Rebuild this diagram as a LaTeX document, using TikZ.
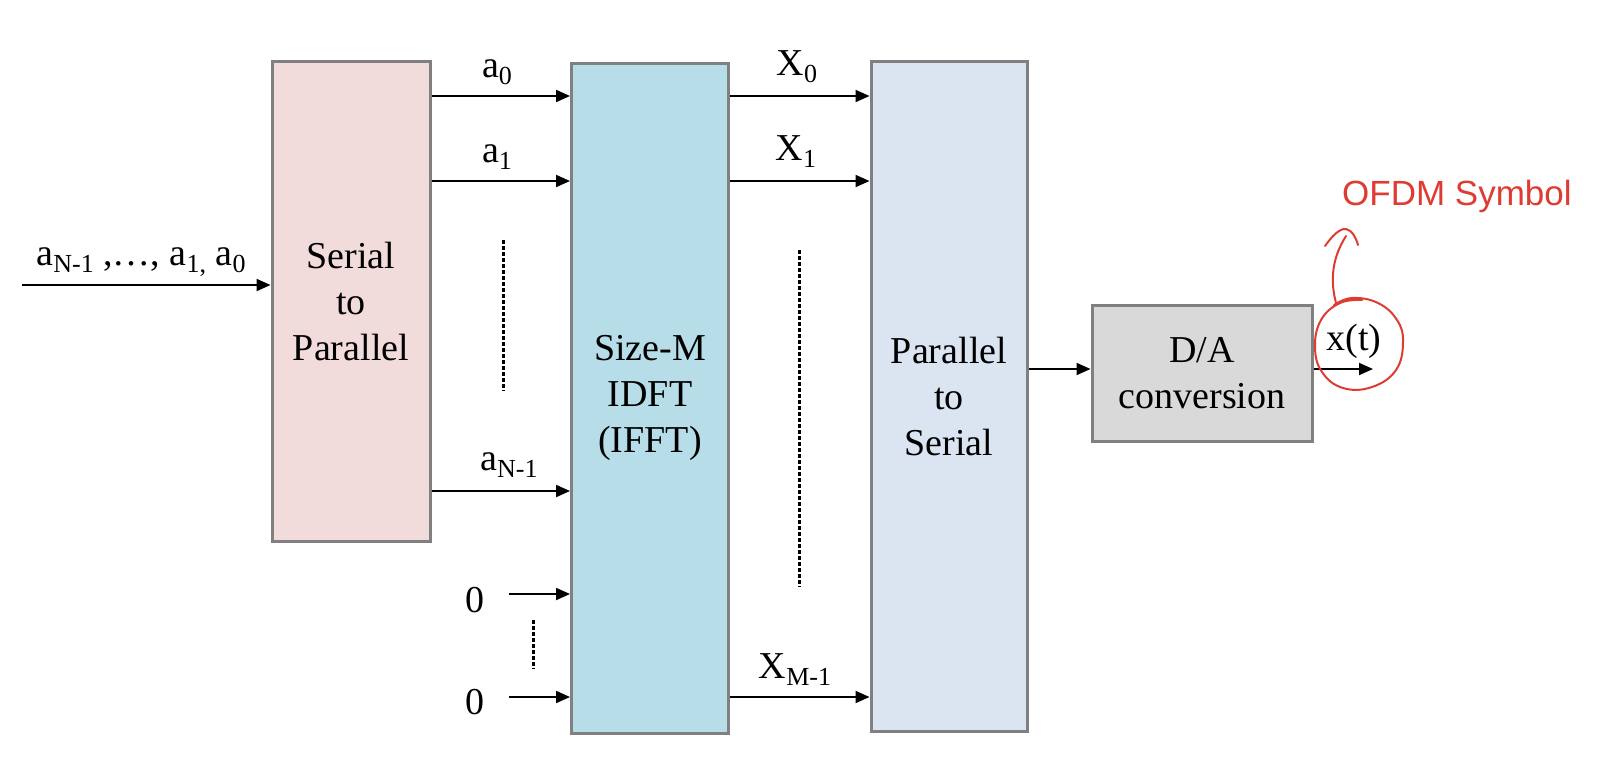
\documentclass[tikz,border=0pt]{standalone}
\usepackage{fontspec}
\setmainfont{Liberation Serif}
\newfontfamily\handfont{Liberation Sans}
\usetikzlibrary{arrows.meta}
\definecolor{boxgray}{RGB}{128,128,128}
\definecolor{spfill}{RGB}{242,220,219}
\definecolor{iffill}{RGB}{183,222,232}
\definecolor{psfill}{RGB}{219,229,241}
\definecolor{dafill}{RGB}{217,217,217}
\definecolor{handred}{RGB}{222,60,50}
\newcommand{\sbs}[1]{\raisebox{-7pt}{\fontsize{26}{26}\selectfont #1}}
\begin{document}
\begin{tikzpicture}[x=1pt,y=-1pt,
  blk/.style={draw=boxgray, line width=3pt, inner sep=0pt, align=center,
    font=\fontsize{38}{46}\selectfont},
  arr/.style={line width=2pt, -{Triangle[length=14pt,width=12pt]}},
  lbl/.style={anchor=base, inner sep=0pt, font=\fontsize{38}{46}\selectfont},
  dotline/.style={line width=3pt, dash pattern=on 3.5pt off 2.5pt},
  ink/.style={draw=handred, line width=2pt, line cap=round, line join=round},
  inktext/.style={text=handred, inner sep=0pt, font=\handfont\fontsize{35}{40}\selectfont}]
\useasboundingbox (0,0) rectangle (1602,769);
% boxes
\node[blk, fill=spfill, minimum width=158pt, minimum height=480pt] (sp) at (351,301) {Serial\\to\\Parallel};
\node[blk, fill=iffill, minimum width=157pt, minimum height=670pt] (ifft) at (650,398) {Size-M\\IDFT\\(IFFT)};
\node[blk, fill=psfill, minimum width=156pt, minimum height=670pt] (ps) at (949,396) {Parallel\\to\\Serial};
\node[blk, fill=dafill, minimum width=220pt, minimum height=136pt] (da) at (1202,373) {D/A\\conversion};
% input
\coordinate (in) at (22,285);
\draw[arr] (in) -- (sp.west |- in);
\node[lbl] (inl) at (141,265) {a\sbs{N-1} ,…, a\sbs{1,} a\sbs{0}};
% a arrows
\draw[arr] (sp.east |- 0,96) -- (ifft.west |- 0,96);
\draw[arr] (sp.east |- 0,181) -- (ifft.west |- 0,181);
\draw[arr] (sp.east |- 0,491) -- (ifft.west |- 0,491);
\node[lbl] (la0) at (497,77) {a\sbs{0}};
\node[lbl] (la1) at (497,162) {a\sbs{1}};
\node[lbl] (laN) at (509,470) {a\sbs{N-1}};
\draw[dotline] (503,240) -- (503,391);
% zero inputs
\coordinate (z1) at (509,594);
\coordinate (z2) at (509,697);
\draw[arr] (z1) -- (ifft.west |- z1);
\draw[arr] (z2) -- (ifft.west |- z2);
\node[lbl] (l01) at (475,612) {0};
\node[lbl] (l02) at (475,714) {0};
\draw[dotline] (533,620) -- (533,669);
% X arrows
\draw[arr] (ifft.east |- 0,96) -- (ps.west |- 0,96);
\draw[arr] (ifft.east |- 0,181) -- (ps.west |- 0,181);
\draw[arr] (ifft.east |- 0,697) -- (ps.west |- 0,697);
\node[lbl] (lX0) at (797,75) {X\sbs{0}};
\node[lbl] (lX1) at (796,160) {X\sbs{1}};
\node[lbl] (lXM) at (795,678) {X\sbs{M-1}};
\draw[dotline] (799,250) -- (799,587);
% to D/A and output
\draw[arr] (ps.east |- 0,369) -- (da.west |- 0,369);
\coordinate (out) at (1373,369);
\draw[arr] (da.east |- out) -- (out);
\node[lbl] (lx) at (1354,350) {x(t)};
% hand annotation
\draw[ink] plot[smooth, tension=0.7] coordinates {(1334,305) (1352,298) (1378,303) (1397,320) (1403,342) (1396,370) (1372,387) (1343,388) (1322,372) (1315,347) (1321,320) (1340,303) (1362,300)};
\draw[ink] (1336,303) .. controls (1330,280) and (1332,258) .. (1346,236);
\draw[ink] (1325,246) .. controls (1332,236) and (1340,228) .. (1346,229) .. controls (1352,230) and (1356,238) .. (1358,245);
\node[inktext, anchor=base west] (oft) at (1342,205) {OFDM Symbol};
\end{tikzpicture}
\end{document}
